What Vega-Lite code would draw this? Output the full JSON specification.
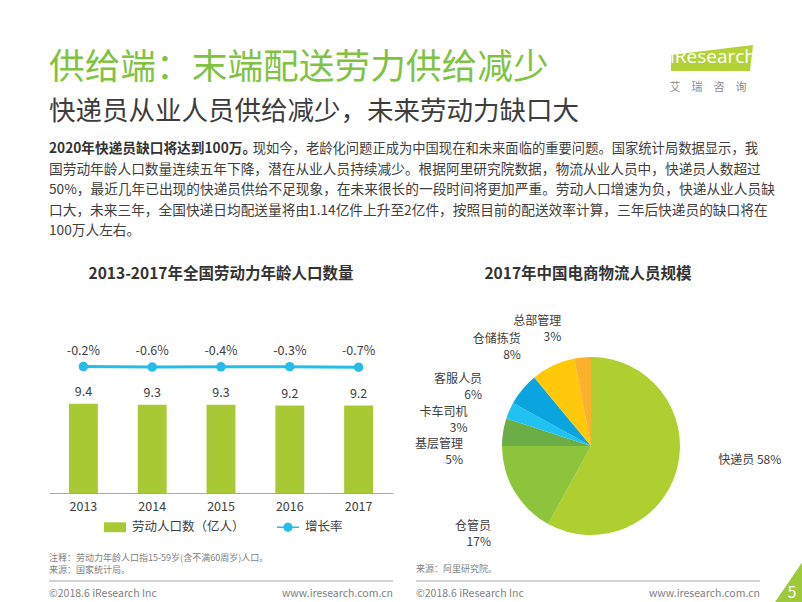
{
  "$schema": "https://vega.github.io/schema/vega-lite/v6.json",
  "background": "#ffffff",
  "padding": {"left": 48, "top": 44, "right": 0, "bottom": 0},
  "spacing": 19,
  "config": {
    "view": {"stroke": null},
    "font": "Noto Sans CJK SC",
    "text": {"font": "Noto Sans CJK SC"},
    "title": {"font": "Noto Sans CJK SC"},
    "axis": {"labelFont": "Noto Sans CJK SC"},
    "legend": {"labelFont": "Noto Sans CJK SC"}
  },
  "vconcat": [
    {
      "spacing": 5,
      "vconcat": [
        {
          "width": 709,
          "height": 88,
          "layer": [
            {
              "data": {"values": [{"row": "title", "text": "供给端：末端配送劳力供给减少"}]},
              "mark": {"type": "text", "align": "left", "baseline": "middle", "fontSize": 35.7, "color": "#80c342"},
              "encoding": {
                "x": {"value": 0},
                "y": {"field": "row", "type": "nominal", "scale": {"domain": ["title", "sub"]}, "axis": null},
                "text": {"field": "text"}
              }
            },
            {
              "data": {"values": [{"row": "sub", "text": "快递员从业人员供给减少，未来劳动力缺口大"}]},
              "mark": {"type": "text", "align": "left", "baseline": "middle", "fontSize": 26.5, "color": "#3d3d3d"},
              "encoding": {
                "x": {"value": 0},
                "y": {"field": "row", "type": "nominal", "scale": {"domain": ["title", "sub"]}, "axis": null},
                "text": {"field": "text"}
              }
            },
            {
              "data": {"values": [{"row": "title"}]},
              "mark": {"type": "point", "shape": "M-0.965,-0.07L0.965,-0.306L0.894,0.306L-0.965,0.306Z", "size": 7225, "filled": true, "color": "#b3d236", "opacity": 1, "xOffset": -46, "yOffset": -10},
              "encoding": {
                "x": {"value": "width"},
                "y": {"field": "row", "type": "nominal", "scale": {"domain": ["title", "sub"]}, "axis": null}
              }
            },
            {
              "data": {"values": [{"row": "title", "text": "iResearch"}]},
              "mark": {"type": "text", "align": "center", "baseline": "middle", "fontSize": 19, "color": "#ffffff", "font": "Open Sans", "dx": -45, "dy": -11},
              "encoding": {
                "x": {"value": "width"},
                "y": {"field": "row", "type": "nominal", "scale": {"domain": ["title", "sub"]}, "axis": null},
                "text": {"field": "text"}
              }
            },
            {
              "data": {"values": [{"row": "title", "text": "艾　瑞　咨　询"}]},
              "mark": {"type": "text", "align": "center", "baseline": "middle", "fontSize": 11, "color": "#8c8c8c", "dx": -50, "dy": 20},
              "encoding": {
                "x": {"value": "width"},
                "y": {"field": "row", "type": "nominal", "scale": {"domain": ["title", "sub"]}, "axis": null},
                "text": {"field": "text"}
              }
            }
          ]
        },
        {
          "width": 709,
          "height": 108,
          "layer": [
            {
              "data": {"values": [{"line": 1, "text": "2020年快递员缺口将达到100万。"}]},
              "mark": {"type": "text", "align": "left", "baseline": "middle", "fontSize": 13.7, "fontWeight": "bold", "color": "#333333"},
              "encoding": {
                "x": {"value": 0},
                "y": {"field": "line", "type": "ordinal", "scale": {"domain": [1, 2, 3, 4, 5], "padding": 0.634, "align": 0.394}, "axis": null},
                "text": {"field": "text"}
              }
            },
            {
              "data": {"values": [{"line": 1, "text": "现如今，老龄化问题正成为中国现在和未来面临的重要问题。国家统计局数据显示，我"}]},
              "mark": {"type": "text", "align": "right", "baseline": "middle", "fontSize": 13.3, "color": "#404040"},
              "encoding": {
                "x": {"value": "width"},
                "y": {"field": "line", "type": "ordinal", "scale": {"domain": [1, 2, 3, 4, 5], "padding": 0.634, "align": 0.394}, "axis": null},
                "text": {"field": "text"}
              }
            },
            {
              "data": {"values": [
                {"line": 2, "text": "国劳动年龄人口数量连续五年下降，潜在从业人员持续减少。根据阿里研究院数据，物流从业人员中，快递员人数超过"},
                {"line": 3, "text": "50%，最近几年已出现的快递员供给不足现象，在未来很长的一段时间将更加严重。劳动人口增速为负，快递从业人员缺"},
                {"line": 4, "text": "口大，未来三年，全国快递日均配送量将由1.14亿件上升至2亿件，按照目前的配送效率计算，三年后快递员的缺口将在"},
                {"line": 5, "text": "100万人左右。"}
              ]},
              "mark": {"type": "text", "align": "left", "baseline": "middle", "fontSize": 13.7, "color": "#404040"},
              "encoding": {
                "x": {"value": 0},
                "y": {"field": "line", "type": "ordinal", "scale": {"domain": [1, 2, 3, 4, 5], "padding": 0.634, "align": 0.394}, "axis": null},
                "text": {"field": "text"}
              }
            }
          ]
        }
      ]
    },
    {
      "spacing": 21,
      "resolve": {"scale": {"color": "independent"}, "legend": {"color": "independent"}},
      "hconcat": [
        {
          "width": 344,
          "height": 190,
          "title": {"text": "2013-2017年全国劳动力年龄人口数量", "fontSize": 15.5, "fontWeight": "bold", "color": "#333333", "offset": 21, "anchor": "middle"},
          "layer": [
            {
              "data": {"values": [
                {"year": "2013", "pop": 9.4, "rate": -0.002, "rateLabel": "-0.2%"},
                {"year": "2014", "pop": 9.3, "rate": -0.006, "rateLabel": "-0.6%"},
                {"year": "2015", "pop": 9.3, "rate": -0.004, "rateLabel": "-0.4%"},
                {"year": "2016", "pop": 9.2, "rate": -0.003, "rateLabel": "-0.3%"},
                {"year": "2017", "pop": 9.2, "rate": -0.007, "rateLabel": "-0.7%"}
              ]},
              "layer": [
                {
                  "mark": {"type": "bar", "width": {"band": 0.42}},
                  "encoding": {
                    "x": {"field": "year", "type": "ordinal", "scale": {"paddingInner": 0, "paddingOuter": 0},
                      "axis": {"title": null, "labelAngle": 0, "ticks": false, "labelPadding": 7, "labelFontSize": 12.5, "labelColor": "#404040", "domainColor": "#a6a6a6"}},
                    "y": {"field": "pop", "type": "quantitative", "scale": {"domain": [0, 20]}, "axis": null},
                    "color": {
                      "datum": "劳动人口数（亿人）", "type": "nominal",
                      "scale": {"domain": ["劳动人口数（亿人）", "增长率"], "range": ["#a9c934", "#25bde9"]},
                      "legend": {
                        "title": null, "orient": "none", "legendX": 55, "legendY": 213, "direction": "horizontal",
                        "symbolSize": 484, "labelFontSize": 12.5, "labelColor": "#404040", "columnPadding": 32, "labelOffset": 6, "labelLimit": 300,
                        "encode": {"symbols": {"update": {
                          "shape": {"signal": "datum.value === '增长率' ? 'M-1,-0.07L1,-0.07L1,0.07L-1,0.07Z M0.42,0A0.42,0.42 0 1,1 -0.42,0A0.42,0.42 0 1,1 0.42,0Z' : 'M-1,-0.45L1,-0.45L1,0.45L-1,0.45Z'"},
                          "fill": {"signal": "datum.value === '增长率' ? '#25bde9' : '#a9c934'"},
                          "stroke": {"value": "transparent"},
                          "strokeWidth": {"value": 0},
                          "opacity": {"value": 1}
                        }}}
                      }
                    }
                  }
                },
                {
                  "mark": {"type": "text", "dy": -12, "fontSize": 12.5, "color": "#404040"},
                  "encoding": {
                    "x": {"field": "year", "type": "ordinal", "scale": {"paddingInner": 0, "paddingOuter": 0}},
                    "y": {"field": "pop", "type": "quantitative", "scale": {"domain": [0, 20]}, "axis": null},
                    "text": {"field": "pop", "type": "quantitative", "format": ".1f"}
                  }
                },
                {
                  "mark": {"type": "line", "strokeWidth": 3, "point": {"filled": true, "size": 90}},
                  "encoding": {
                    "x": {"field": "year", "type": "ordinal", "scale": {"paddingInner": 0, "paddingOuter": 0}},
                    "y": {"field": "rate", "type": "quantitative", "scale": {"domain": [-1.0, 0.5]}, "axis": null},
                    "color": {"datum": "增长率", "type": "nominal"}
                  }
                },
                {
                  "mark": {"type": "text", "dy": -16, "fontSize": 12.5, "color": "#404040"},
                  "encoding": {
                    "x": {"field": "year", "type": "ordinal", "scale": {"paddingInner": 0, "paddingOuter": 0}},
                    "y": {"field": "rate", "type": "quantitative", "scale": {"domain": [-1.0, 0.5]}, "axis": null},
                    "text": {"field": "rateLabel", "type": "nominal"}
                  }
                }
              ],
              "resolve": {"scale": {"y": "independent"}}
            },
            {
              "data": {"values": [
                {"line": 1, "text": "注释：劳动力年龄人口指15-59岁(含不满60周岁)人口。"},
                {"line": 2, "text": "来源：国家统计局。"}
              ]},
              "layer": [
                {
                  "transform": [{"filter": "datum.line === 1"}],
                  "mark": {"type": "text", "align": "left", "baseline": "middle", "fontSize": 9, "color": "#7f7f7f", "dy": 65},
                  "encoding": {"x": {"value": 0}, "y": {"value": "height"}, "text": {"field": "text"}}
                },
                {
                  "transform": [{"filter": "datum.line === 2"}],
                  "mark": {"type": "text", "align": "left", "baseline": "middle", "fontSize": 9, "color": "#7f7f7f", "dy": 77},
                  "encoding": {"x": {"value": 0}, "y": {"value": "height"}, "text": {"field": "text"}}
                }
              ]
            },
            {
              "data": {"values": [{}]},
              "mark": {"type": "rule", "color": "#a6a6a6", "strokeWidth": 1, "yOffset": 88},
              "encoding": {"y": {"value": "height"}}
            },
            {
              "data": {"values": [{"text": "©2018.6 iResearch Inc"}]},
              "mark": {"type": "text", "align": "left", "baseline": "middle", "fontSize": 10.5, "color": "#7f7f7f", "dy": 101},
              "encoding": {"x": {"value": 0}, "y": {"value": "height"}, "text": {"field": "text"}}
            },
            {
              "data": {"values": [{"text": "www.iresearch.com.cn"}]},
              "mark": {"type": "text", "align": "right", "baseline": "middle", "fontSize": 10.5, "color": "#7f7f7f", "dy": 101},
              "encoding": {"x": {"value": "width"}, "y": {"value": "height"}, "text": {"field": "text"}}
            }
          ]
        },
        {
          "width": 344,
          "height": 190,
          "title": {"text": "2017年中国电商物流人员规模", "fontSize": 15.5, "fontWeight": "bold", "color": "#333333", "offset": 21, "anchor": "middle"},
          "layer": [
            {
              "data": {"values": [
                {"idx": 1, "name": "快递员", "pct": 58, "label": "快递员 58%"},
                {"idx": 2, "name": "仓管员", "pct": 17, "label": ["仓管员", "17%"]},
                {"idx": 3, "name": "基层管理", "pct": 5, "label": ["基层管理", "5%"]},
                {"idx": 4, "name": "卡车司机", "pct": 3, "label": ["卡车司机", "3%"]},
                {"idx": 5, "name": "客服人员", "pct": 6, "label": ["客服人员", "6%"]},
                {"idx": 6, "name": "仓储拣货", "pct": 8, "label": ["仓储拣货", "8%"]},
                {"idx": 7, "name": "总部管理", "pct": 3, "label": ["总部管理", "3%"]}
              ]},
              "encoding": {
                "theta": {"field": "pct", "type": "quantitative", "stack": true},
                "order": {"field": "idx", "type": "quantitative"}
              },
              "layer": [
                {
                  "mark": {"type": "arc", "outerRadius": 89, "xOffset": 3, "yOffset": 48},
                  "encoding": {
                    "color": {"field": "name", "type": "nominal",
                      "scale": {"domain": ["快递员", "仓管员", "基层管理", "卡车司机", "客服人员", "仓储拣货", "总部管理"],
                                "range": ["#aecf2f", "#8cc43c", "#6cae45", "#1fc2f0", "#0aa5df", "#ffc90a", "#fbb12b"]},
                      "legend": null}
                  }
                },
                {
                  "mark": {"type": "text", "radius": 128, "thetaOffset": -0.14, "xOffset": 3, "yOffset": 48, "fontSize": 12, "color": "#404040", "lineHeight": 16, "baseline": "middle",
                    "align": {"expr": "(datum.pct_start + datum.pct_end) / 2 < 50 ? 'left' : 'right'"}},
                  "encoding": {"text": {"field": "label"}}
                }
              ]
            },
            {
              "data": {"values": [{"text": "来源：阿里研究院。"}]},
              "mark": {"type": "text", "align": "left", "baseline": "middle", "fontSize": 9, "color": "#7f7f7f", "dy": 76},
              "encoding": {"x": {"value": 0}, "y": {"value": "height"}, "text": {"field": "text"}}
            },
            {
              "data": {"values": [{}]},
              "mark": {"type": "rule", "color": "#a6a6a6", "strokeWidth": 1, "yOffset": 88},
              "encoding": {"y": {"value": "height"}}
            },
            {
              "data": {"values": [{"text": "©2018.6 iResearch Inc"}]},
              "mark": {"type": "text", "align": "left", "baseline": "middle", "fontSize": 10.5, "color": "#7f7f7f", "dy": 101},
              "encoding": {"x": {"value": 0}, "y": {"value": "height"}, "text": {"field": "text"}}
            },
            {
              "data": {"values": [{"text": "www.iresearch.com.cn"}]},
              "mark": {"type": "text", "align": "right", "baseline": "middle", "fontSize": 10.5, "color": "#7f7f7f", "dy": 101},
              "encoding": {"x": {"value": "width"}, "y": {"value": "height"}, "text": {"field": "text"}}
            },
            {
              "data": {"values": [{}]},
              "mark": {"type": "point", "shape": "M-1,0.85L0.6,0.85L0.6,-1.5Z", "size": 1600, "filled": true, "color": "#9dc93b", "opacity": 1, "xOffset": 33, "yOffset": 95},
              "encoding": {"x": {"value": "width"}, "y": {"value": "height"}}
            },
            {
              "data": {"values": [{"text": "5"}]},
              "mark": {"type": "text", "align": "center", "baseline": "middle", "fontSize": 16, "color": "#ffffff", "dx": 32, "dy": 100},
              "encoding": {"x": {"value": "width"}, "y": {"value": "height"}, "text": {"field": "text"}}
            }
          ]
        }
      ]
    }
  ]
}
